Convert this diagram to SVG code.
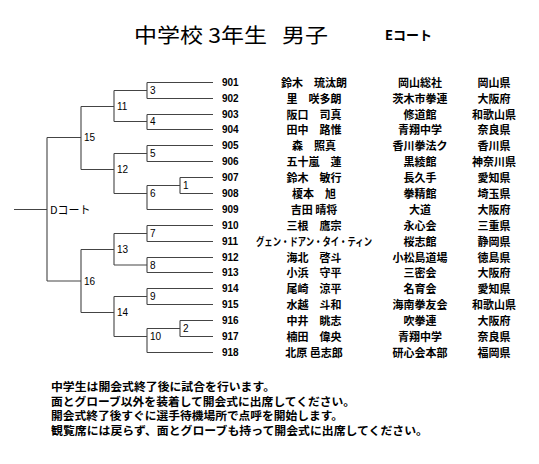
<svg xmlns="http://www.w3.org/2000/svg" width="539" height="464" viewBox="0 0 539 464">
<style>
.ln{stroke:#444;stroke-width:1.1;fill:none}
.lb{font-family:"Liberation Sans",Arial,sans-serif;font-size:10px;fill:#000}
.no{font-family:"Liberation Sans",Arial,sans-serif;font-size:10px;font-weight:bold;fill:#000}
.jp{font-family:"Noto Sans CJK JP",sans-serif;font-size:11px;font-weight:bold;fill:#000;text-anchor:middle}
.ft{font-family:"Noto Sans CJK JP",sans-serif;font-size:11.5px;font-weight:bold;fill:#000}
</style>
<rect width="539" height="464" fill="#fff"/>
<g id="title">
<text x="134" y="43" font-family="Noto Sans CJK JP, sans-serif" font-size="20.5" fill="#000" textLength="133" lengthAdjust="spacingAndGlyphs">中学校 3年生</text>
<text x="282" y="43" font-family="Noto Sans CJK JP, sans-serif" font-size="20.5" fill="#000" textLength="46" lengthAdjust="spacingAndGlyphs">男子</text>
<text x="385" y="40" font-family="Noto Sans CJK JP, sans-serif" font-size="13" font-weight="bold" fill="#000" textLength="47" lengthAdjust="spacingAndGlyphs">Eコート</text>
</g>
<g id="connectors" class="ln">
<path d="M147 82.5H213M147 98.5H213M147 82.5V98.5M114 90.5H147"/>
<path d="M147 114.5H213M147 129.5H213M147 114.5V129.5M114 121.5H147"/>
<path d="M114 90.5V121.5M81 106.5H114"/>
<path d="M147 145.5H213M147 161.5H213M147 145.5V161.5M114 153.5H147"/>
<path d="M180 177.5H213M180 193.5H213M180 177.5V193.5M147 185.5H180"/>
<path d="M147 209.5H213M147 185.5V209.5M114 193.5H147"/>
<path d="M114 153.5V193.5M81 169.5H114"/>
<path d="M81 106.5V169.5M47 137.5H81"/>
<path d="M147 225.5H213M147 241.5H213M147 225.5V241.5M114 233.5H147"/>
<path d="M147 257.5H213M147 272.5H213M147 257.5V272.5M114 265H147"/>
<path d="M114 233.5V265M81 249.5H114"/>
<path d="M147 288.5H213M147 304.5H213M147 288.5V304.5M114 296.5H147"/>
<path d="M180 320.5H213M180 336.5H213M180 320.5V336.5M147 328.5H180"/>
<path d="M147 352.5H213M147 328.5V352.5M114 336.5H147"/>
<path d="M114 296.5V336.5M81 312.5H114"/>
<path d="M81 249.5V312.5M47 281H81"/>
<path d="M47 137.5V281M14 209.5H47"/>
</g>
<g id="bracket-labels" class="lb">
<text x="150" y="94">3</text>
<text x="150" y="125">4</text>
<text x="117" y="110">11</text>
<text x="150" y="157">5</text>
<text x="183" y="189">1</text>
<text x="150" y="197">6</text>
<text x="117" y="173">12</text>
<text x="84" y="141">15</text>
<text x="150" y="237">7</text>
<text x="150" y="268.5">8</text>
<text x="117" y="253">13</text>
<text x="150" y="300">9</text>
<text x="183" y="332">2</text>
<text x="150" y="340">10</text>
<text x="117" y="316">14</text>
<text x="84" y="284.5">16</text>
<text x="50" y="214" font-family="Noto Sans CJK JP, sans-serif" font-size="11">Dコート</text>
</g>
<g id="entries">
<g id="e901"><text class="no" x="222" y="86">901</text><text class="jp" x="314" y="86.5">鈴木　琉汰朗</text><text class="jp" x="420" y="86.5">岡山総社</text><text class="jp" x="494" y="86.5">岡山県</text></g>
<g id="e902"><text class="no" x="222" y="102">902</text><text class="jp" x="314" y="102.5">里　咲多朗</text><text class="jp" x="420" y="102.5">茨木市拳連</text><text class="jp" x="494" y="102.5">大阪府</text></g>
<g id="e903"><text class="no" x="222" y="118">903</text><text class="jp" x="314" y="118.5">阪口　司真</text><text class="jp" x="420" y="118.5">修道館</text><text class="jp" x="494" y="118.5">和歌山県</text></g>
<g id="e904"><text class="no" x="222" y="133">904</text><text class="jp" x="314" y="133.5">田中　路惟</text><text class="jp" x="420" y="133.5">青翔中学</text><text class="jp" x="494" y="133.5">奈良県</text></g>
<g id="e905"><text class="no" x="222" y="149">905</text><text class="jp" x="314" y="149.5">森　照真</text><text class="jp" x="420" y="149.5">香川拳法ク</text><text class="jp" x="494" y="149.5">香川県</text></g>
<g id="e906"><text class="no" x="222" y="165">906</text><text class="jp" x="314" y="165.5">五十嵐　蓮</text><text class="jp" x="420" y="165.5">黒綾館</text><text class="jp" x="494" y="165.5">神奈川県</text></g>
<g id="e907"><text class="no" x="222" y="181">907</text><text class="jp" x="314" y="181.5">鈴木　敏行</text><text class="jp" x="420" y="181.5">長久手</text><text class="jp" x="494" y="181.5">愛知県</text></g>
<g id="e908"><text class="no" x="222" y="197">908</text><text class="jp" x="314" y="197.5">榎本　旭</text><text class="jp" x="420" y="197.5">拳精館</text><text class="jp" x="494" y="197.5">埼玉県</text></g>
<g id="e909"><text class="no" x="222" y="213">909</text><text class="jp" x="314" y="213.5">吉田 晴将</text><text class="jp" x="420" y="213.5">大道</text><text class="jp" x="494" y="213.5">大阪府</text></g>
<g id="e910"><text class="no" x="222" y="229">910</text><text class="jp" x="314" y="229.5">三根　鷹宗</text><text class="jp" x="420" y="229.5">永心会</text><text class="jp" x="494" y="229.5">三重県</text></g>
<g id="e911"><text class="no" x="222" y="245">911</text><text class="jp" transform="translate(314 245.5) scale(0.76 1)" x="0" y="0">グェン・ドアン・タイ・ティン</text><text class="jp" x="420" y="245.5">桜志館</text><text class="jp" x="494" y="245.5">静岡県</text></g>
<g id="e912"><text class="no" x="222" y="261">912</text><text class="jp" x="314" y="261.5">海北　啓斗</text><text class="jp" x="420" y="261.5">小松島道場</text><text class="jp" x="494" y="261.5">徳島県</text></g>
<g id="e913"><text class="no" x="222" y="276">913</text><text class="jp" x="314" y="276.5">小浜　守平</text><text class="jp" x="420" y="276.5">三密会</text><text class="jp" x="494" y="276.5">大阪府</text></g>
<g id="e914"><text class="no" x="222" y="292">914</text><text class="jp" x="314" y="292.5">尾崎　涼平</text><text class="jp" x="420" y="292.5">名育会</text><text class="jp" x="494" y="292.5">愛知県</text></g>
<g id="e915"><text class="no" x="222" y="308">915</text><text class="jp" x="314" y="308.5">水越　斗和</text><text class="jp" x="420" y="308.5">海南拳友会</text><text class="jp" x="494" y="308.5">和歌山県</text></g>
<g id="e916"><text class="no" x="222" y="324">916</text><text class="jp" x="314" y="324.5">中井　眺志</text><text class="jp" x="420" y="324.5">吹拳連</text><text class="jp" x="494" y="324.5">大阪府</text></g>
<g id="e917"><text class="no" x="222" y="340">917</text><text class="jp" x="314" y="340.5">楠田　偉央</text><text class="jp" x="420" y="340.5">青翔中学</text><text class="jp" x="494" y="340.5">奈良県</text></g>
<g id="e918"><text class="no" x="222" y="356">918</text><text class="jp" x="314" y="356.5">北原 邑志郎</text><text class="jp" x="420" y="356.5">研心会本部</text><text class="jp" x="494" y="356.5">福岡県</text></g>
</g>
<g id="notes" class="ft">
<text x="51" y="391" textLength="224" lengthAdjust="spacingAndGlyphs">中学生は開会式終了後に試合を行います。</text>
<text x="51" y="405.5" textLength="304" lengthAdjust="spacingAndGlyphs">面とグローブ以外を装着して開会式に出席してください。</text>
<text x="51" y="420" textLength="292" lengthAdjust="spacingAndGlyphs">開会式終了後すぐに選手待機場所で点呼を開始します。</text>
<text x="51" y="434.5" textLength="377" lengthAdjust="spacingAndGlyphs">観覧席には戻らず、面とグローブも持って開会式に出席してください。</text>
</g>
</svg>
